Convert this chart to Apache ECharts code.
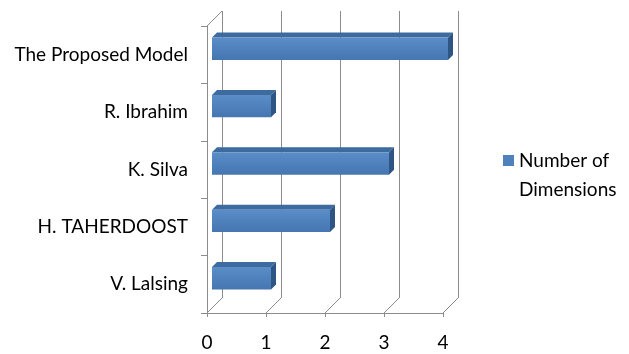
<!DOCTYPE html>
<html>
<head>
<meta charset="utf-8">
<script src="https://cdn.jsdelivr.net/npm/echarts@6/dist/echarts.min.js"></script>
<style>
	html,body{margin:0;padding:0;background:#fff;}
	#chart{width:629px;height:354px;}
</style>
</head>
<body>
<div id="chart"></div>
<script>
var categories = ['The Proposed Model','R. Ibrahim','K. Silva','H. TAHERDOOST','V. Lalsing'];
var dimensions = [4, 1, 3, 2, 1];
var xTicks = [0, 1, 2, 3, 4];
var seriesName = 'Number of\nDimensions';

var DEPTH = 15;       // offset of the back wall
var BAR_SHIFT = 5;    // bars sit half way into the depth
var FONT = 'Lato, "Noto Sans", sans-serif';

function renderBar(params, api){
	var i = api.value(1);
	var v = api.value(0);
	var s = api.coord([0, i]);
	var e = api.coord([v, i]);
	var band = api.size([0, 1])[1];
	var h = band * 0.39;
	var d = 5;
	var x0 = s[0] + BAR_SHIFT, x1 = e[0] + BAR_SHIFT;
	var y0 = s[1] - 6 - h / 2, y1 = y0 + h;
	return {
		type:'group',
		children:[
			{
				type:'polygon',
				shape:{points:[[x0,y0],[x0+d,y0-d],[x1+d,y0-d],[x1,y0]]},
				style:{fill:'#3d6a9f'}
			},
			{
				type:'polygon',
				shape:{points:[[x1,y0],[x1+d,y0-d],[x1+d,y1-d],[x1,y1]]},
				style:{fill:'#2f5584'}
			},
			{
				type:'rect',
				shape:{x:x0, y:y0, width:x1 - x0, height:h},
				style:{fill:new echarts.graphic.LinearGradient(0,0,0,1,[
					{offset:0, color:'#5b8dc9'},
					{offset:0.5, color:'#4f81bd'},
					{offset:1, color:'#4676b0'}
				])}
			}
		]
	};
}

function renderFloor(params, api){
	var v = api.value(0);
	var cs = params.coordSys;
	var x = api.coord([v, 0])[0];
	var yb = cs.y + cs.height;
	var children = [{
		type:'line',
		shape:{x1:x, y1:yb, x2:x + DEPTH, y2:yb - DEPTH},
		style:{stroke:'#8c8c8c', lineWidth:1}
	}];
	if(v === 0){
		// top edge of the left wall
		children.push({
			type:'line',
			shape:{x1:x, y1:cs.y, x2:x + DEPTH, y2:cs.y - DEPTH},
			style:{stroke:'#8c8c8c', lineWidth:1}
		});
	}
	return {type:'group', children:children};
}

function init(){
	var myChart = echarts.init(document.getElementById('chart'));
	myChart.setOption({
		animation:false,
		backgroundColor:'#fff',
		textStyle:{fontFamily:FONT},
		legend:{
			data:[{name:seriesName, icon:'rect'}],
			left:503,
			top:117,
			padding:0,
			itemWidth:11,
			itemHeight:11,
			itemGap:4,
			// blank first line so the marker sits next to the first text line
			formatter:function(name){ return ' \n' + name; },
			textStyle:{
				fontFamily:FONT,
				fontSize:19,
				lineHeight:29,
				color:'#000'
			}
		},
		grid:[
			{left:207, top:26, width:236, height:287},
			{left:207 + DEPTH, top:26 - DEPTH, width:236, height:287}
		],
		xAxis:[
			{
				gridIndex:0,
				type:'value',
				min:0,
				max:4,
				interval:1,
				axisLine:{show:true, lineStyle:{color:'#8c8c8c'}},
				axisTick:{show:true, length:4, lineStyle:{color:'#8c8c8c'}},
				splitLine:{show:false},
				axisLabel:{fontSize:19, color:'#000', margin:20, fontFamily:FONT}
			},
			{
				gridIndex:1,
				type:'value',
				min:0,
				max:4,
				interval:1,
				axisLine:{show:false},
				axisTick:{show:false},
				axisLabel:{show:false},
				splitLine:{show:true, lineStyle:{color:'#8c8c8c'}}
			}
		],
		yAxis:[
			{
				gridIndex:0,
				type:'category',
				inverse:true,
				data:categories,
				axisLine:{show:true, lineStyle:{color:'#8c8c8c'}},
				axisTick:{show:true, length:6, lineStyle:{color:'#8c8c8c'}},
				axisLabel:{fontSize:19, color:'#000', margin:19, fontFamily:FONT}
			},
			{
				gridIndex:1,
				type:'category',
				inverse:true,
				data:categories,
				show:false
			}
		],
		series:[
			{
				name:'floor',
				type:'custom',
				xAxisIndex:0,
				yAxisIndex:0,
				silent:true,
				renderItem:renderFloor,
				data:xTicks.map(function(t){ return [t, 0]; }),
				z:1
			},
			{
				name:seriesName,
				type:'custom',
				xAxisIndex:0,
				yAxisIndex:0,
				itemStyle:{color:'#4f81bd'},
				encode:{x:0, y:1},
				renderItem:renderBar,
				data:dimensions.map(function(v, i){ return [v, i]; }),
				z:3
			}
		]
	});
}
init();
</script>
</body>
</html>
